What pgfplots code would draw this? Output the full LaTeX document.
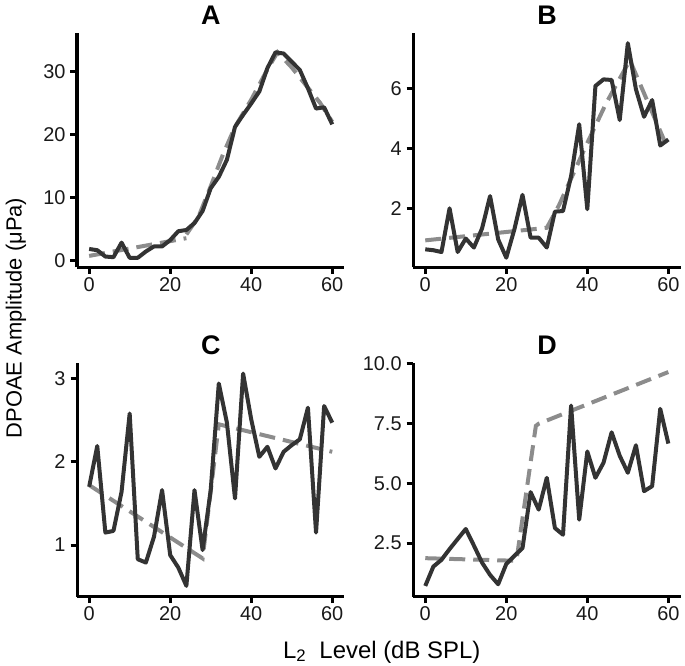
\documentclass[border=0pt]{standalone}
\usepackage{fontspec}
\setmainfont{Liberation Sans}
\usepackage{pgfplots}
\pgfplotsset{compat=1.18}

\definecolor{dataline}{HTML}{333333}
\definecolor{fitline}{HTML}{8C8C8C}

\pgfplotsset{
  panel/.style={
    scale only axis, width=267.4bp, height=234bp,
    anchor=south west,
    axis x line*=bottom, axis y line*=left,
    axis line style={line width=3bp, black, -},
    every tick/.style={line width=3bp, black},
    tick align=outside, major tick length=6.5bp,
    xmin=-3, xmax=63, xtick={0,20,40,60},
    tick label style={font=\fontsize{20}{22}\selectfont, text=black!90},
    yticklabel style={xshift=-1.5bp},
    /pgf/number format/assume math mode=true,
  },
  datal/.style={line width=4bp, color=dataline, line join=round, no marks},
  fitl/.style={line width=4bp, color=fitline, dash pattern=on 16bp off 8bp, no marks},
}

\begin{document}
\begin{tikzpicture}
\useasboundingbox (0,0) rectangle (685bp,666bp);

% Panel A
\begin{axis}[panel, at={(77bp,398.7bp)}, ymin=-1, ymax=36, ytick={0,10,20,30}]
\addplot[fitl] coordinates {(0,0.8)(24,3.6)};
\addplot[fitl] coordinates {(24,4.2)(27,7.0)(30,11.8)(33,16.8)(36,21.2)(40,25.5)(44,30.3)(46.5,33.0)(50,30.6)(54,27.4)(57,25.0)(60,22.0)};
\addplot[datal] coordinates {(0,1.9)(2,1.7)(4,0.7)(6,0.6)(8,2.9)(10,0.5)(12,0.5)(14,1.5)(16,2.3)(18,2.3)(20,3.3)(22,4.7)(24,4.9)(26,6.0)(28,7.9)(30,11.5)(32,13.3)(34,16.0)(36,21.2)(38,23.1)(40,24.9)(42,26.8)(44,30.5)(46,33.0)(48,32.8)(50,31.5)(52,30.2)(54,27.3)(56,24.1)(58,24.3)(60,21.6)};
\end{axis}

% Panel B
\begin{axis}[panel, at={(413.1bp,398.7bp)}, ymin=0.03, ymax=7.85, ytick={2,4,6}]
\addplot[fitl] coordinates {(0,0.93)(30,1.35)(33,2.1)(39.7,4.1)(44.6,5.5)(50.5,6.95)(60,3.95)};
\addplot[datal] coordinates {(0,0.63)(2,0.6)(4,0.54)(6,2.0)(8,0.54)(10,0.99)(12,0.69)(14,1.32)(16,2.41)(18,0.96)(20,0.35)(22,1.3)(24,2.45)(26,1.02)(28,1.02)(30,0.69)(32,1.89)(34,1.91)(36,3.08)(38,4.81)(40,1.97)(42,6.09)(44,6.31)(46,6.29)(48,4.95)(50,7.52)(52,5.98)(54,5.06)(56,5.62)(58,4.1)(60,4.3)};
\end{axis}

% Panel C
\begin{axis}[panel, at={(77bp,69.3bp)}, ymin=0.38, ymax=3.19, ytick={1,2,3}]
\addplot[fitl] coordinates {(0,1.72)(28,0.84)(32,2.45)(60,2.12)};
\addplot[datal] coordinates {(0,1.70)(2,2.19)(4,1.15)(6,1.17)(8,1.64)(10,2.58)(12,0.83)(14,0.79)(16,1.10)(18,1.66)(20,0.88)(22,0.73)(24,0.51)(26,1.66)(28,0.94)(30,1.66)(32,2.94)(34,2.47)(36,1.56)(38,3.06)(40,2.51)(42,2.06)(44,2.18)(46,1.92)(48,2.12)(50,2.20)(52,2.27)(54,2.65)(56,1.15)(58,2.67)(60,2.47)};
\end{axis}

% Panel D
\begin{axis}[panel, at={(413.1bp,69.3bp)}, ymin=0.26, ymax=10.04, ytick={2.5,5,7.5,10},
  yticklabel style={/pgf/number format/.cd, fixed, fixed zerofill, precision=1}]
\addplot[fitl] coordinates {(0,1.87)(22.5,1.76)(27.3,7.4)(28,7.49)(60,9.65)};
\addplot[datal] coordinates {(0,0.71)(2,1.52)(4,1.80)(6,2.25)(8,2.67)(10,3.09)(12,2.40)(14,1.69)(16,1.17)(18,0.78)(20,1.63)(22,1.97)(24,2.29)(26,4.63)(28,3.9)(30,5.23)(32,3.13)(34,2.85)(36,8.25)(38,3.48)(40,6.33)(42,5.23)(44,5.86)(46,7.13)(48,6.15)(50,5.44)(52,6.59)(54,4.67)(56,4.88)(58,8.11)(60,6.66)};
\end{axis}

% Titles
\node[anchor=base, font=\bfseries\fontsize{27}{29}\selectfont] at (210.8bp,641bp) {A};
\node[anchor=base, font=\bfseries\fontsize{27}{29}\selectfont] at (547bp,641bp) {B};
\node[anchor=base, font=\bfseries\fontsize{27}{29}\selectfont] at (210.8bp,311bp) {C};
\node[anchor=base, font=\bfseries\fontsize{27}{29}\selectfont] at (547bp,311bp) {D};

% Axis labels
\node[rotate=90, font=\fontsize{22}{24}\selectfont] at (16bp,348bp) {DPOAE Amplitude (μPa)};
\node[anchor=base, font=\fontsize{24}{26}\selectfont] at (381.7bp,8bp) {L\textsubscript{2}\ \ Level (dB SPL)};
\end{tikzpicture}
\end{document}
